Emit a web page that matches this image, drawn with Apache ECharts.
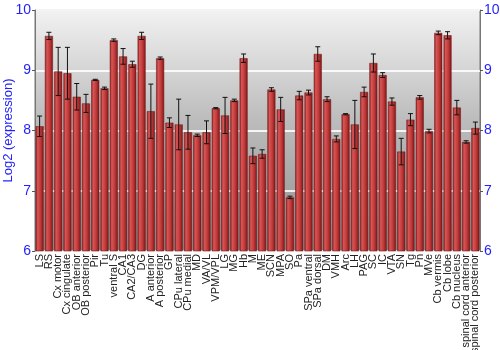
<!DOCTYPE html>
<html>
<head>
<meta charset="utf-8">
<script src="https://cdn.jsdelivr.net/npm/echarts@6/dist/echarts.min.js"></script>
<style>
  html, body { margin: 0; padding: 0; background: #fff; }
  #chart { width: 500px; height: 350px; }
</style>
</head>
<body>
<div id="chart"></div>
<script>
// brain regions
var categories = ["LS", "RS", "Cx motor", "Cx cingulate", "OB anterior", "OB posterior", "Pir", "Tu",
  "ventral S", "CA1", "CA2/CA3", "DG", "A anterior", "A posterior", "GP", "CPu lateral", "CPu medial",
  "MD", "VA/VL", "VPM/VPL", "LG", "MG", "Hb", "M", "ME", "SCN", "MPA", "SO", "Pa", "SPa ventral",
  "SPa dorsal", "DM", "VMH", "Arc", "LH", "PAG", "SC", "IC", "VTA", "SN", "Tg", "Pn", "MVe",
  "Cb vermis", "Cb lobe", "Cb nucleus", "spinal cord anterior", "spinal cord posterior"];

// mean log2 expression
var means = [8.07, 9.57, 8.98, 8.95, 8.56, 8.45, 8.84, 8.70,
  9.50, 9.23, 9.10, 9.57, 8.32, 9.20, 8.13, 8.10, 7.97,
  7.92, 7.97, 8.37, 8.25, 8.50, 9.20, 7.58, 7.61, 8.68, 8.35, 6.89, 8.58, 8.63,
  9.27, 8.52, 7.86, 8.27, 8.10, 8.64, 9.12, 8.92, 8.48, 7.65, 8.18, 8.55, 7.99,
  9.62, 9.58, 8.38, 7.81, 8.04];

// error (+/-)
var errors = [0.17, 0.06, 0.40, 0.43, 0.22, 0.15, 0.01, 0.02,
  0.02, 0.13, 0.05, 0.06, 0.45, 0.02, 0.08, 0.42, 0.28,
  0.02, 0.19, 0.01, 0.30, 0.02, 0.07, 0.13, 0.07, 0.03, 0.20, 0.02, 0.07, 0.04,
  0.12, 0.04, 0.05, 0.01, 0.40, 0.08, 0.15, 0.04, 0.06, 0.22, 0.10, 0.03, 0.03,
  0.03, 0.06, 0.12, 0.02, 0.10];

var errData = means.map(function (m, i) {
  return [i, m - errors[i], m + errors[i]];
});

var chart = echarts.init(document.getElementById("chart"));

var blue = "#1f1fff";
var yAxisBase = {
  type: "value",
  min: 6,
  max: 10,
  interval: 1,
  axisLine: { show: true, lineStyle: { color: "#777", width: 1 } },
  axisTick: { show: true, length: 3, lineStyle: { color: "#555" } },
  axisLabel: { color: blue, fontSize: 14, fontFamily: "Liberation Sans, Arial, sans-serif", margin: 4 },
  splitLine: { show: false }
};

chart.setOption({
  animation: false,
  grid: {
    left: 35,
    right: 20,
    top: 10,
    bottom: 99,
    containLabel: false,
    outerBoundsMode: "none",
    show: true,
    borderColor: "#777",
    borderWidth: 1,
    backgroundColor: {
      type: "linear", x: 0, y: 0, x2: 0, y2: 1,
      colorStops: [
        { offset: 0, color: "#f2f2f2" },
        { offset: 0.45, color: "#bdbdbd" },
        { offset: 1, color: "#8e8e8e" }
      ]
    }
  },
  xAxis: {
    type: "category",
    data: categories,
    axisLine: { show: false },
    axisTick: { show: false },
    axisLabel: {
      interval: 0,
      rotate: 90,
      fontSize: 11,
      color: "#222",
      margin: 3,
      fontFamily: "Liberation Sans, Arial, sans-serif"
    }
  },
  yAxis: [
    Object.assign({}, yAxisBase, {
      position: "left",
      name: "Log2 (expression)",
      nameLocation: "middle",
      nameGap: 20,
      nameMoveOverlap: false,
      nameTextStyle: { color: blue, fontSize: 13, fontFamily: "Liberation Sans, Arial, sans-serif" },
      splitLine: { show: true, lineStyle: { color: "rgba(255,255,255,0.85)", width: 2 } }
    }),
    Object.assign({}, yAxisBase, { position: "right" })
  ],
  series: [
    {
      type: "bar",
      data: means,
      barCategoryGap: "14%",
      itemStyle: {
        borderColor: "#6e1212",
        borderWidth: 0.5,
        color: {
          type: "linear", x: 0, y: 0, x2: 1, y2: 0,
          colorStops: [
            { offset: 0, color: "#8e1e1e" },
            { offset: 0.25, color: "#d65656" },
            { offset: 0.6, color: "#c23a3a" },
            { offset: 1, color: "#7c1616" }
          ]
        }
      }
    },
    {
      type: "custom",
      data: errData,
      z: 10,
      renderItem: function (params, api) {
        var i = api.value(0);
        var lo = api.coord([i, api.value(1)]);
        var hi = api.coord([i, api.value(2)]);
        var w = 2.5;
        var style = { stroke: "#111", lineWidth: 1 };
        return {
          type: "group",
          children: [
            { type: "line", shape: { x1: hi[0], y1: hi[1], x2: lo[0], y2: lo[1] }, style: style },
            { type: "line", shape: { x1: hi[0] - w, y1: hi[1], x2: hi[0] + w, y2: hi[1] }, style: style },
            { type: "line", shape: { x1: lo[0] - w, y1: lo[1], x2: lo[0] + w, y2: lo[1] }, style: style }
          ]
        };
      }
    }
  ]
});
</script>
</body>
</html>
